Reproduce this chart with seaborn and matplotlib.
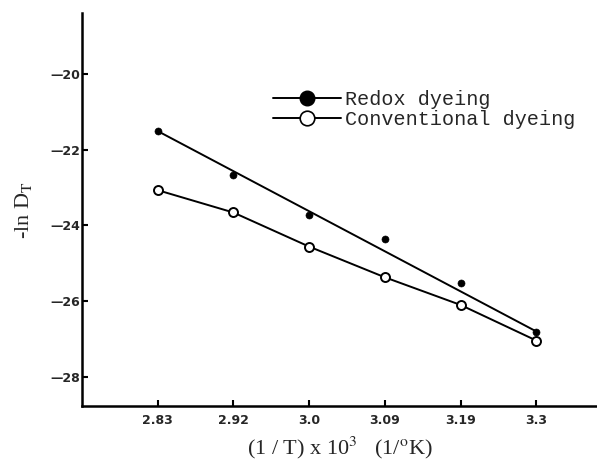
import matplotlib
matplotlib.use("Agg")
import matplotlib.pyplot as plt
import seaborn as sns
import pandas as pd
import numpy as np
from matplotlib.lines import Line2D

# ---- data ----
x_labels = ["2.83", "2.92", "3.0", "3.09", "3.19", "3.3"]
redox = [-21.51, -22.68, -23.73, -24.35, -25.51, -26.82]
conventional = [-23.07, -23.66, -24.56, -25.37, -26.10, -27.04]
redox_fit_ends = [-21.51, -26.80]   # fitted line at first and last x
y_ticks = [-20, -22, -24, -26, -28]

sns.set_theme(style="white")
plt.rcParams["mathtext.fontset"] = "stix"

fig = plt.figure(figsize=(5.97, 4.69), dpi=100)
ax = fig.add_axes([0.137, 0.134, 0.863, 0.838])

idx = np.arange(len(x_labels))
df = pd.DataFrame({"x": np.concatenate([idx, idx]),
                   "y": redox + conventional,
                   "series": ["Redox dyeing"] * 6 + ["Conventional dyeing"] * 6})

# fitted line for redox
fit_df = pd.DataFrame({"x": [idx[0], idx[-1]], "y": redox_fit_ends})
sns.lineplot(data=fit_df, x="x", y="y", ax=ax, color="black", lw=1.4, legend=False)
# conventional line through points
conv_df = df[df.series == "Conventional dyeing"]
sns.lineplot(data=conv_df, x="x", y="y", ax=ax, color="black", lw=1.4, legend=False,
             sort=False)

red_df = df[df.series == "Redox dyeing"]
sns.scatterplot(data=red_df, x="x", y="y", ax=ax, color="black", s=26,
                edgecolor="black", zorder=5, legend=False)
sns.scatterplot(data=conv_df, x="x", y="y", ax=ax, facecolor="white", s=42,
                edgecolor="black", linewidth=1.4, zorder=5, legend=False)

ax.set_xlim(-1.0, 5.8)
ax.set_ylim(-28.77, -18.4)
ax.set_xticks(idx)
ax.set_xticklabels(x_labels, fontsize=9, fontweight="bold", family="DejaVu Sans")
ax.set_yticks(y_ticks)
ax.set_yticklabels(["\u2014" + str(abs(v)) for v in y_ticks], fontsize=9,
                   fontweight="bold", family="DejaVu Sans")
ax.tick_params(axis="both", direction="in", length=4, width=1.5, color="black",
               bottom=True, left=True)
ax.tick_params(axis="x", pad=6)
ax.tick_params(axis="y", pad=1)
for s in ["top", "right"]:
    ax.spines[s].set_visible(False)
for s in ["left", "bottom"]:
    ax.spines[s].set_color("black")
    ax.spines[s].set_linewidth(1.8)

ax.set_xlabel(r"(1 / T) x 10$^{3}$   (1/$^{\mathrm{o}}$K)", family="Liberation Serif",
              fontsize=16, labelpad=5)
ax.set_ylabel(r"-ln D$_{\mathrm{T}}$", family="Liberation Serif", fontsize=16,
              labelpad=12)

handles = [
    Line2D([], [], color="black", lw=1.4, marker="o", markersize=10.5,
           markerfacecolor="black", markeredgecolor="black"),
    Line2D([], [], color="black", lw=1.4, marker="o", markersize=10.5,
           markerfacecolor="white", markeredgecolor="black", markeredgewidth=1.2),
]
leg = ax.legend(handles, ["Redox dyeing", "Conventional dyeing"],
                loc="upper left", bbox_to_anchor=(0.355, 0.825), frameon=False,
                prop={"family": "Liberation Mono", "size": 14.5},
                handlelength=3.4, handletextpad=0.2, labelspacing=0.05,
                borderaxespad=0)

fig.savefig("out.png", dpi=100)
